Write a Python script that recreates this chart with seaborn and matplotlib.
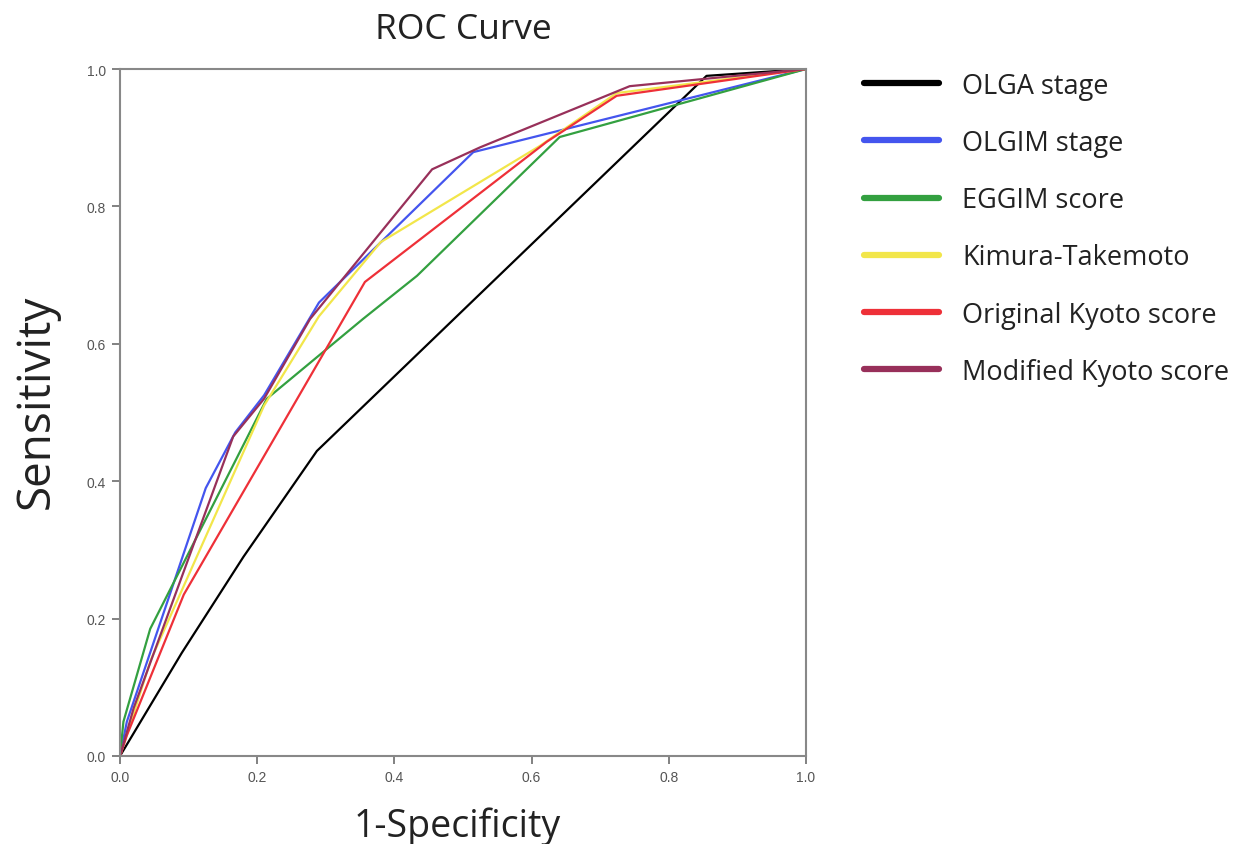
import pandas as pd
import seaborn as sns
import matplotlib.pyplot as plt

# ROC points (1-specificity, sensitivity)
olga_x = [0.0, 0.09, 0.18, 0.287, 0.855, 1.0]
olga_y = [0.0, 0.15, 0.29, 0.444, 0.99, 1.0]

olgim_x = [0.0, 0.01, 0.125, 0.168, 0.21, 0.29, 0.515, 1.0]
olgim_y = [0.0, 0.05, 0.39, 0.471, 0.525, 0.66, 0.879, 1.0]

eggim_x = [0.0, 0.005, 0.044, 0.214, 0.354, 0.433, 0.641, 1.0]
eggim_y = [0.0, 0.05, 0.185, 0.52, 0.636, 0.699, 0.901, 1.0]

kimura_x = [0.0, 0.045, 0.21, 0.29, 0.38, 0.612, 0.724, 1.0]
kimura_y = [0.0, 0.14, 0.51, 0.64, 0.748, 0.888, 0.965, 1.0]

orig_x = [0.0, 0.01, 0.093, 0.357, 0.622, 0.724, 1.0]
orig_y = [0.0, 0.03, 0.235, 0.69, 0.894, 0.961, 1.0]

mod_x = [0.0, 0.02, 0.165, 0.21, 0.277, 0.455, 0.525, 0.743, 1.0]
mod_y = [0.0, 0.07, 0.465, 0.52, 0.636, 0.854, 0.886, 0.975, 1.0]

names = ['OLGA stage', 'OLGIM stage', 'EGGIM score', 'Kimura-Takemoto',
         'Original Kyoto score', 'Modified Kyoto score']
colors = ['#000000', '#4455ee', '#33a040', '#f2e64a', '#ee3038', '#98305a']

series = [(olga_x, olga_y), (olgim_x, olgim_y), (eggim_x, eggim_y),
          (kimura_x, kimura_y), (orig_x, orig_y), (mod_x, mod_y)]

rows = []
for n, (xs, ys) in zip(names, series):
    for i, (a, b) in enumerate(zip(xs, ys)):
        rows.append({'model': n, 'fpr': a, 'tpr': b, 'order': i})
df = pd.DataFrame(rows)

sns.set_style('white')
plt.rcParams['font.family'] = ['Open Sans', 'DejaVu Sans']

fig = plt.figure(figsize=(12.41, 8.45), dpi=100)
ax = fig.add_axes([120 / 1241, 1 - 757 / 845, 686 / 1241, 687 / 845])

sns.lineplot(data=df, x='fpr', y='tpr', hue='model', hue_order=names,
             palette=colors, sort=False, estimator=None, units='model',
             linewidth=1.6, ax=ax, legend=False)

ax.set_xlim(0, 1)
ax.set_ylim(0, 1)
ticks = [0.0, 0.2, 0.4, 0.6, 0.8, 1.0]
ax.set_xticks(ticks)
ax.set_yticks(ticks)
ax.set_xticklabels(['%.1f' % t for t in ticks], fontfamily='Liberation Sans', fontsize=10, color='#555555')
ax.set_yticklabels(['%.1f' % t for t in ticks], fontfamily='Liberation Sans', fontsize=10, color='#555555')
ax.tick_params(axis='both', direction='out', length=6, width=1.3, color='#777777', pad=4,
               bottom=True, left=True)
for s in ax.spines.values():
    s.set_color('#888888')
    s.set_linewidth(1.5)

ax.set_title('ROC Curve', fontsize=25.5, pad=22, color='#222222')
ax.set_xlabel('1-Specificity', fontsize=27, color='#222222')
ax.xaxis.set_label_coords(0.492, -0.073)
ax.set_ylabel('Sensitivity', fontsize=33, color='#222222')
ax.yaxis.set_label_coords(-0.088, 0.517)

handles = [plt.Line2D([], [], color=c, lw=4.5, solid_capstyle='round') for c in colors]
fig.legend(handles, names, loc='upper left', bbox_to_anchor=(850 / 1241, 1 - 59 / 845),
           frameon=False, fontsize=19.5, handlelength=2.8, handletextpad=0.85,
           labelspacing=1.08, borderpad=0, labelcolor='#222222')

fig.savefig('out.png', dpi=100)
